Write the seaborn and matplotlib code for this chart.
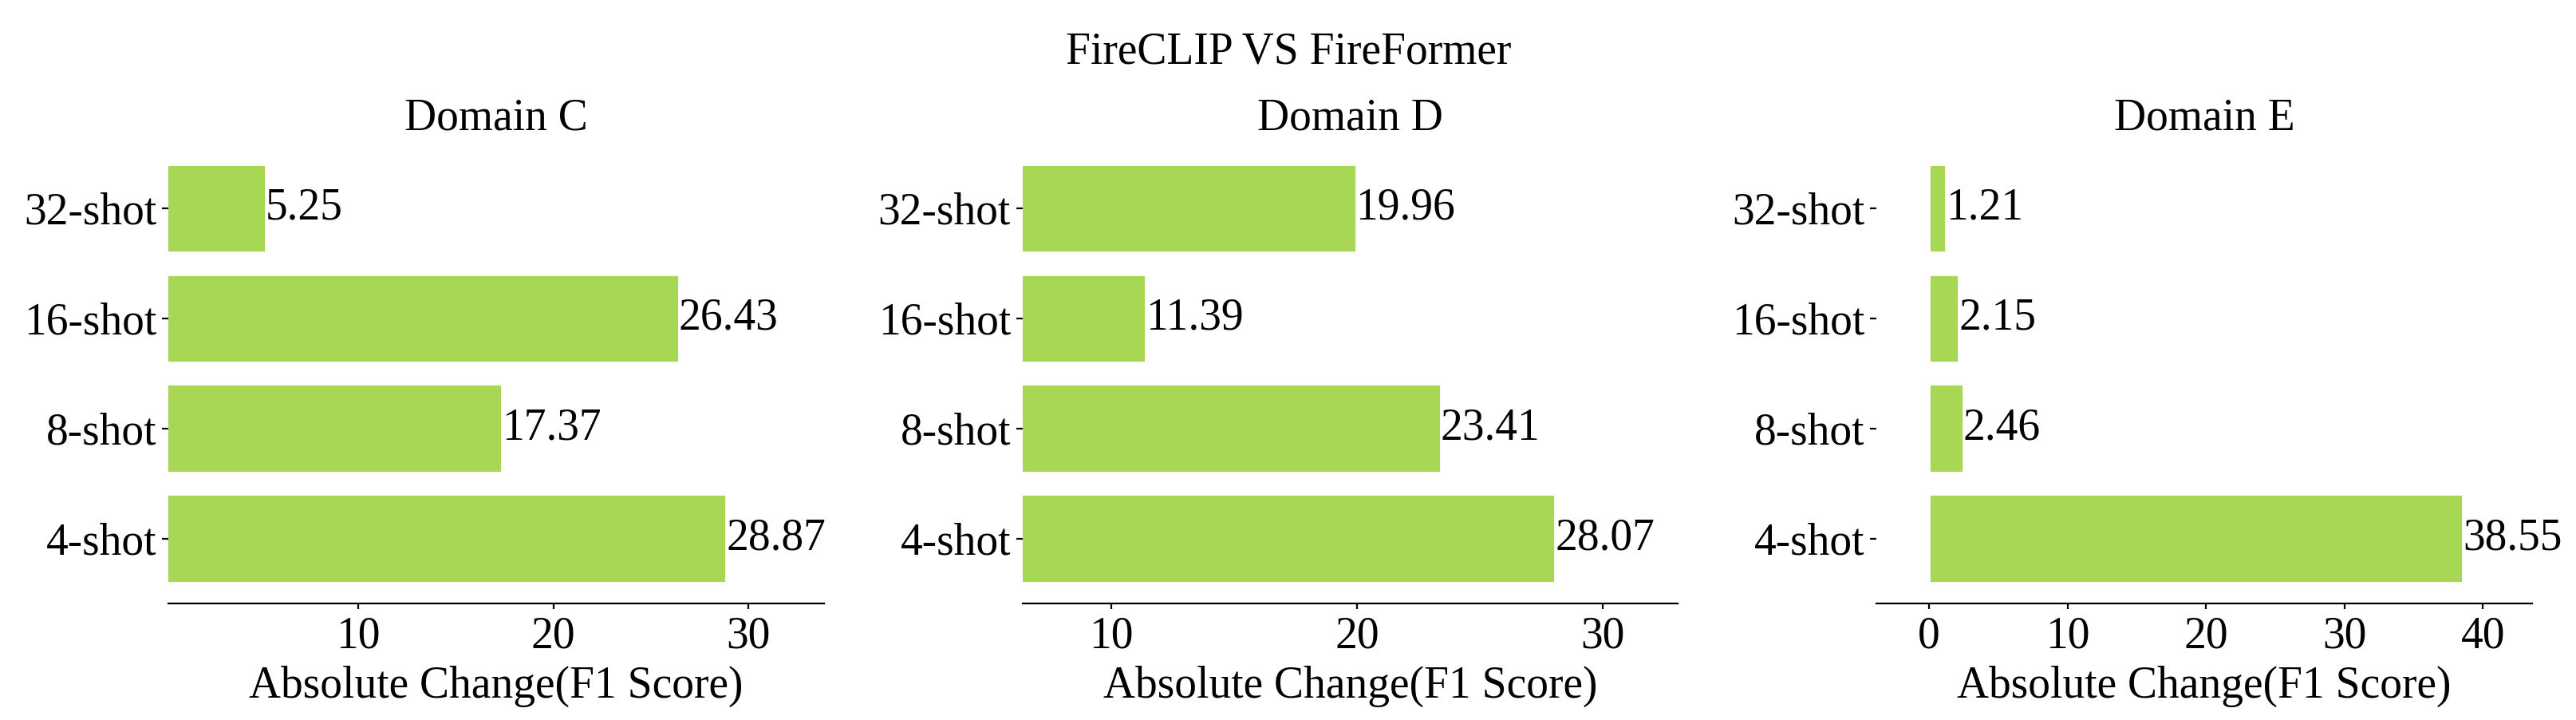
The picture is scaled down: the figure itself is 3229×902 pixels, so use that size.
import numpy as np
import pandas as pd
import matplotlib
matplotlib.use('Agg')
import matplotlib.pyplot as plt
from matplotlib.ticker import MultipleLocator
import seaborn as sns

# data
shots = ['32-shot', '16-shot', '8-shot', '4-shot']
domains = ['Domain C', 'Domain D', 'Domain E']
domain_c = [5.25, 26.43, 17.37, 28.87]
domain_d = [19.96, 11.39, 23.41, 28.07]
domain_e = [1.21, 2.15, 2.46, 38.55]

bar_color = '#a8d755'

sns.set_style('white')
plt.rcParams['font.family'] = ['Liberation Serif', 'DejaVu Serif']
plt.rcParams['font.size'] = 20
plt.rcParams['axes.linewidth'] = 0.8
for key in ['text.color', 'axes.labelcolor', 'xtick.color', 'ytick.color', 'axes.edgecolor']:
    plt.rcParams[key] = 'black'

fig, axs = plt.subplots(1, 3, figsize=(16.15, 4.51), dpi=200)
fig.subplots_adjust(left=0.0653, right=0.9827, top=0.801, bottom=0.162, wspace=0.303)

for ax, title, values in zip(axs, domains, [domain_c, domain_d, domain_e]):
    df = pd.DataFrame({'shot': shots, 'value': values})
    sns.barplot(data=df, x='value', y='shot', orient='h', color=bar_color,
                saturation=1, width=0.8, ax=ax)
    ax.bar_label(ax.containers[0], fmt='%.2f', padding=0, fontsize=20, color='black')

    # 左右に5の余白
    ax.set_xlim(min(values) - 5, max(values) + 5)
    ax.set_ylim(len(shots) - 1 + 0.59, -0.59)
    ax.xaxis.set_major_locator(MultipleLocator(10))

    ax.set_title(title, fontsize=20, color='black')
    ax.set_xlabel('Absolute Change(F1 Score)', fontsize=20)
    ax.set_ylabel('')
    ax.tick_params(axis='x', labelsize=20, length=2.5, width=0.8, pad=3, bottom=True)
    ax.tick_params(axis='y', labelsize=20, length=2.8, width=0.8, pad=2.5, left=True)
    sns.despine(ax=ax, left=True)

fig.suptitle('FireCLIP VS FireFormer', fontsize=20, y=1 - 80 / 902, va='baseline', color='black')

fig.savefig('out.png', dpi=200)
